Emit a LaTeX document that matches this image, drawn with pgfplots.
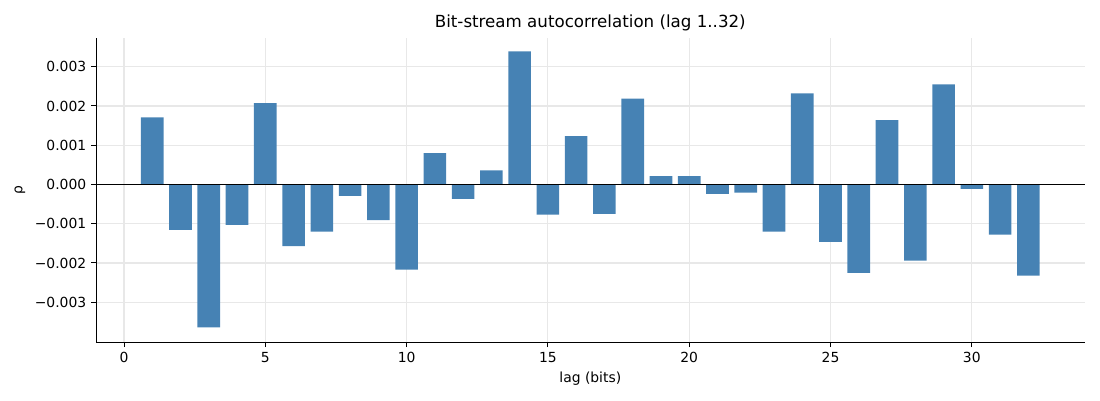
\documentclass[border=0pt]{standalone}
\usepackage{fontspec}
\setmainfont{DejaVu Sans}
\usepackage{pgfplots}
\pgfplotsset{compat=1.18}
\definecolor{steel}{HTML}{4682B4}
\definecolor{gridc}{RGB}{232,232,232}
\pgfplotstableread{
lag rho
1 0.00171
2 -0.00116
3 -0.00364
4 -0.00103
5 0.00207
6 -0.00157
7 -0.00120
8 -0.00029
9 -0.00091
10 -0.00217
11 0.00080
12 -0.00037
13 0.00036
14 0.00339
15 -0.00077
16 0.00123
17 -0.00075
18 0.00219
19 0.00021
20 0.00021
21 -0.00024
22 -0.00021
23 -0.00120
24 0.00232
25 -0.00146
26 -0.00225
27 0.00164
28 -0.00194
29 0.00255
30 -0.00011
31 -0.00128
32 -0.00232
}\datatable
\begin{document}
\begin{tikzpicture}
\useasboundingbox (-69.1pt,-41.8pt) rectangle (722.5pt,246.3pt);
\begin{axis}[
  at={(0,0)}, anchor=south west,
  scale only axis, width=711.4pt, height=218.9pt,
  xmin=-0.99, xmax=33.99, ymin=-0.00402, ymax=0.00373,
  axis lines=left, axis line style={-, line width=0.7pt, black},
  tick align=outside, major tick length=3.5pt,
  tick style={line width=0.7pt, black},
  xtick={0,5,10,15,20,25,30},
  ytick={-0.003,-0.002,-0.001,0,0.001,0.002,0.003},
  yticklabels={−0.003,−0.002,−0.001,0.000,0.001,0.002,0.003},
  scaled y ticks=false,
  /pgf/number format/assume math mode=true,
  ticklabel style={font=\fontsize{10}{12}\selectfont},
  grid=major, grid style={gridc, line width=0.8pt},
  xlabel={lag (bits)}, ylabel={ρ},
  label style={font=\fontsize{10}{12}\selectfont},
  title={Bit-stream autocorrelation (lag 1..32)},
  title style={font=\fontsize{12}{14}\selectfont, yshift=-4.5pt},
  clip=false,
]
\addplot[ybar, bar width=0.8, bar shift=0pt, fill=steel, draw=none] table[x=lag, y=rho] {\datatable};
\addplot[black, line width=0.8pt] coordinates {(-0.99,0) (33.99,0)};
\end{axis}
\end{tikzpicture}
\end{document}
